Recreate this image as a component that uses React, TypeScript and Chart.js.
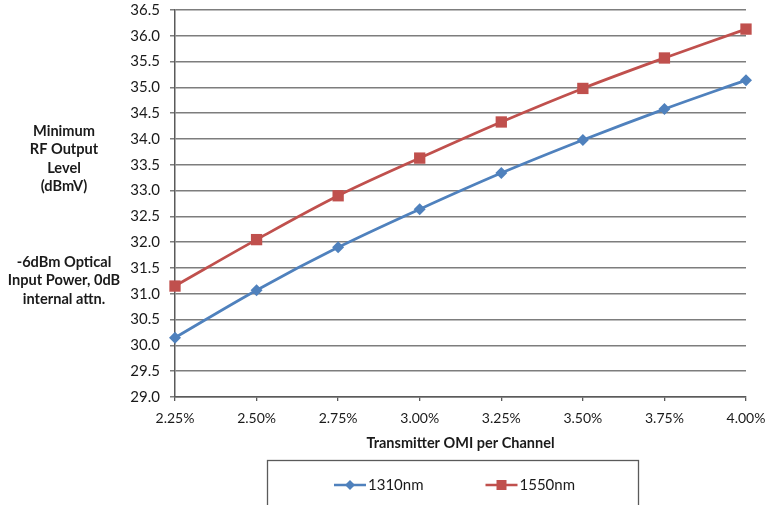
import React, { useEffect, useRef } from "react";
import { Chart, registerables } from "chart.js";

Chart.register(...registerables);

const categories = ["2.25%", "2.50%", "2.75%", "3.00%", "3.25%", "3.50%", "3.75%", "4.00%"];
const series1310 = [30.15, 31.07, 31.9, 32.64, 33.34, 33.98, 34.58, 35.14];
const series1550 = [31.15, 32.05, 32.9, 33.63, 34.33, 34.98, 35.57, 36.13];
const seriesNames = ["1310nm", "1550nm"];
const seriesColors = ["#4F81BD", "#C0504D"];
const seriesMarkers = ["rectRot", "rect"];
const yNoteTop = ["Minimum", "RF Output", "Level", "(dBmV)"];
const yNoteBottom = ["-6dBm Optical", "Input Power, 0dB", "internal attn."];
const xAxisTitle = "Transmitter OMI per Channel";
const yMin = 29;
const yMax = 36.5;
const yStep = 0.5;

const FONT = "Lato, 'Open Sans', sans-serif";
const TEXT = "#1a1a1a";
const GRID = "#7d7d7d";
const AXIS = "#5a5a5a";

const sidePlugin = {
  id: "sideAndLegend",
  afterDraw(chart: any) {
    const ctx: CanvasRenderingContext2D = chart.ctx;
    ctx.save();
    ctx.fillStyle = TEXT;
    ctx.font = `bold 14.6px ${FONT}`;
    ctx.textAlign = "center";
    ctx.textBaseline = "middle";
    yNoteTop.forEach((t, i) => ctx.fillText(t, 64, 131 + i * 18.5));
    yNoteBottom.forEach((t, i) => ctx.fillText(t, 64, 262 + i * 18.5));

    // legend box
    const area = chart.chartArea;
    const boxW = 371;
    const boxCenter = (area.left + area.right) / 2 - 8;
    const boxLeft = Math.round(boxCenter - boxW / 2) + 0.5;
    const boxTop = 460.5;
    ctx.strokeStyle = AXIS;
    ctx.lineWidth = 1.3;
    ctx.strokeRect(boxLeft, boxTop, boxW, 80);

    ctx.font = `15px ${FONT}`;
    ctx.textAlign = "left";
    const lineLen = 32;
    const gap = 62;
    const widths = chart.data.datasets.map((d: any) => lineLen + 2 + ctx.measureText(d.label).width);
    const total = widths.reduce((a: number, b: number) => a + b, 0) + gap * (widths.length - 1);
    let x = boxCenter + 2 - total / 2;
    const y = 485;
    chart.data.datasets.forEach((d: any, i: number) => {
      ctx.strokeStyle = d.borderColor;
      ctx.lineWidth = 2.5;
      ctx.beginPath();
      ctx.moveTo(x, y);
      ctx.lineTo(x + lineLen, y);
      ctx.stroke();
      const cx = x + lineLen / 2;
      ctx.fillStyle = d.borderColor;
      ctx.beginPath();
      if (d.pointStyle === "rectRot") {
        const r = 5;
        ctx.moveTo(cx - r, y);
        ctx.lineTo(cx, y - r);
        ctx.lineTo(cx + r, y);
        ctx.lineTo(cx, y + r);
        ctx.closePath();
      } else {
        ctx.rect(cx - 5, y - 5, 10, 10);
      }
      ctx.fill();
      ctx.fillStyle = TEXT;
      ctx.textBaseline = "middle";
      ctx.fillText(d.label, x + lineLen + 2, y);
      x += widths[i] + gap;
    });
    ctx.restore();
  },
};

export default function App() {
  const ref = useRef<HTMLCanvasElement | null>(null);
  useEffect(() => {
    if (!ref.current) return;
    const values = [series1310, series1550];
    const chart = new Chart(ref.current, {
      type: "line",
      data: {
        labels: categories,
        datasets: seriesNames.map((name, i) => ({
          label: name,
          data: values[i],
          borderColor: seriesColors[i],
          backgroundColor: seriesColors[i],
          borderWidth: 2.8,
          pointStyle: seriesMarkers[i] as any,
          pointRadius: i === 0 ? 6 : 8,
          pointBorderWidth: 0,
          pointBackgroundColor: seriesColors[i],
          tension: 0.35,
          fill: false,
        })),
      },
      options: {
        responsive: false,
        animation: false,
        events: [],
        layout: { padding: { left: 115, right: 19, top: 10, bottom: 48 } },
        plugins: {
          legend: { display: false },
          tooltip: { enabled: false },
          title: { display: false },
        },
        scales: {
          x: {
            type: "category",
            offset: false,
            grid: {
              drawOnChartArea: false,
              drawTicks: true,
              tickLength: 4,
              color: AXIS,
              lineWidth: 1.3,
            },
            border: { display: true, color: AXIS, width: 1.5 },
            ticks: {
              color: TEXT,
              font: { family: FONT, size: 14 },
              padding: 9,
              maxRotation: 0,
              autoSkip: false,
            },
            title: {
              display: true,
              text: xAxisTitle,
              color: TEXT,
              font: { family: FONT, size: 14.5, weight: "bold" },
              padding: { top: 0, bottom: 5 },
            },
            afterFit(scale: any) {
              scale.height = 60;
              scale.paddingLeft = 0;
              scale.paddingRight = 0;
            },
          },
          y: {
            min: yMin,
            max: yMax,
            ticks: {
              stepSize: yStep,
              color: TEXT,
              font: { family: FONT, size: 15 },
              padding: 10,
              callback: (v: any) => Number(v).toFixed(1),
            },
            grid: {
              color: GRID,
              lineWidth: 1.5,
              drawTicks: true,
              tickLength: 5,
            },
            border: { display: true, color: AXIS, width: 1.5 },
            afterFit(scale: any) {
              scale.width = 60;
              scale.paddingTop = 0;
              scale.paddingBottom = 0;
            },
          },
        },
      },
      plugins: [sidePlugin],
    });
    return () => chart.destroy();
  }, []);
  return (
    <div style={{ position: "absolute", left: 0, top: 0, width: 765, height: 505, background: "#fff", overflow: "hidden" }}>
      <canvas ref={ref} width={765} height={505} style={{ display: "block" }} />
    </div>
  );
}
